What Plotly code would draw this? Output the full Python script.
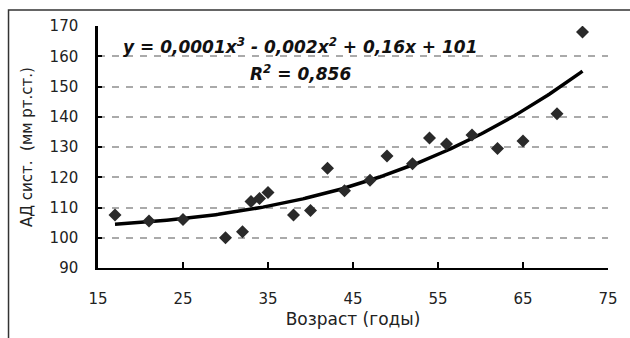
import numpy as np
import plotly.graph_objects as go

age = [17, 21, 25, 30, 32, 33, 34, 35, 38, 40, 42, 44, 47, 49, 52, 54, 56, 59, 62, 65, 69, 72]
bp = [107.5, 105.5, 106, 100, 102, 112, 113, 115, 107.5, 109, 123, 115.5, 119, 127, 124.5, 133, 131, 134, 129.5, 132, 141, 168]

x_ticks = [15, 25, 35, 45, 55, 65, 75]
y_ticks = [90, 100, 110, 120, 130, 140, 150, 160, 170]

coef = np.polyfit(age, bp, 3)
xs = np.linspace(min(age), max(age), 200)
ys = np.polyval(coef, xs)

fig = go.Figure()
fig.add_trace(go.Scatter(x=xs, y=ys, mode="lines",
                         line=dict(color="#000000", width=3.5), hoverinfo="skip"))
fig.add_trace(go.Scatter(x=age, y=bp, mode="markers",
                         marker=dict(symbol="diamond", size=10, color="#2a2a2a",
                                     line=dict(width=0))))

font = "DejaVu Sans, Liberation Sans, Arial, sans-serif"
fig.update_layout(
    width=630, height=338,
    margin=dict(l=98, r=19, t=26, b=70),
    paper_bgcolor="white", plot_bgcolor="white",
    showlegend=False,
    font=dict(family=font, color="#111111"),
    xaxis=dict(range=[15, 75], tickvals=x_ticks, ticktext=[str(v) for v in x_ticks],
               showgrid=False, zeroline=False,
               showline=True, linecolor="#000000", linewidth=2,
               ticks="inside", ticklen=6, tickwidth=2, tickcolor="#000000",
               tickfont=dict(size=15, color="#222222"), ticklabelstandoff=16,
               title=dict(text="Возраст (годы)", font=dict(size=17, color="#222222"), standoff=6)),
    yaxis=dict(range=[90, 170], tickvals=y_ticks, ticktext=[str(v) for v in y_ticks],
               showgrid=True, gridcolor="#aaaaaa", gridwidth=1.5, griddash="7px,7px",
               zeroline=False,
               showline=True, linecolor="#000000", linewidth=2.5,
               ticks="inside", ticklen=4, tickwidth=2, tickcolor="#000000",
               tickfont=dict(size=15, color="#222222"), ticklabelstandoff=14,
               title=dict(text="АД сист.  (мм рт.ст.)", font=dict(size=15, color="#222222"), standoff=14)),
)

fig.add_shape(type="rect", xref="paper", yref="paper",
              x0=(8 - 98) / 513, x1=(645 - 98) / 513,
              y0=(268 - 350) / 242, y1=(268 - 10) / 242,
              line=dict(color="#333333", width=1.5), fillcolor="rgba(0,0,0,0)", layer="below")

fig.add_annotation(xref="paper", yref="paper", x=(302 - 98) / 513, y=(268 - 46) / 242,
                   text="<b><i>y = 0,0001x<sup>3</sup> - 0,002x<sup>2</sup> + 0,16x + 101</i></b>",
                   showarrow=False, font=dict(size=17, color="#111111", family=font),
                   xanchor="center", yanchor="middle")
fig.add_annotation(xref="paper", yref="paper", x=(302 - 98) / 513, y=(268 - 73) / 242,
                   text="<b><i>R<sup>2</sup> = 0,856</i></b>",
                   showarrow=False, font=dict(size=17, color="#111111", family=font),
                   xanchor="center", yanchor="middle")

fig.write_html("out.html")
